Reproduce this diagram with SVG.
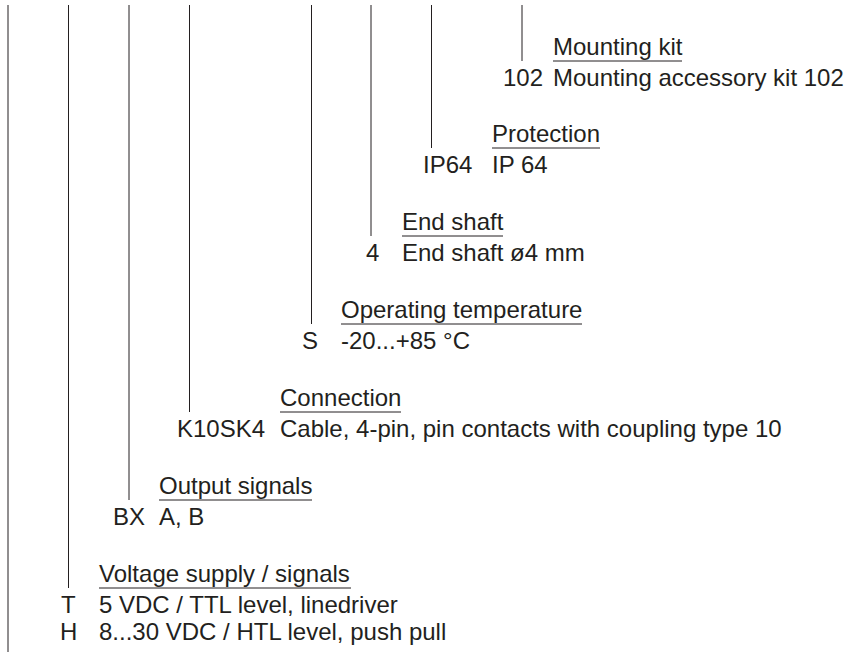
<svg xmlns="http://www.w3.org/2000/svg" width="847" height="657" viewBox="0 0 847 657">
<style>
text{font-family:"Liberation Sans",Arial,sans-serif;font-size:24px;fill:#231f20}
.c{stroke:#231f20;stroke-width:1;fill:none}
.u{stroke:#231f20;stroke-width:1;fill:none}
</style>
<rect width="847" height="657" fill="#fff"/>
<g id="connectors">
<line class="c" x1="8" y1="5" x2="8" y2="652"/>
<line class="c" x1="68.5" y1="5" x2="68.5" y2="588"/>
<line class="c" x1="129" y1="5" x2="129" y2="500"/>
<line class="c" x1="189.5" y1="5" x2="189.5" y2="412"/>
<line class="c" x1="311.5" y1="5" x2="311.5" y2="324"/>
<line class="c" x1="371" y1="5" x2="371" y2="236"/>
<line class="c" x1="431.5" y1="5" x2="431.5" y2="148"/>
<line class="c" x1="522" y1="5" x2="522" y2="61"/>
</g>
<g id="mounting">
<text x="553" y="55">Mounting kit</text>
<line class="u" x1="553" y1="61" x2="682" y2="61"/>
<text x="503" y="86">102</text>
<text x="553" y="86">Mounting accessory kit 102</text>
</g>
<g id="protection">
<text x="492" y="142">Protection</text>
<line class="u" x1="492" y1="148" x2="600" y2="148"/>
<text x="423" y="173">IP64</text>
<text x="492" y="173">IP 64</text>
</g>
<g id="endshaft">
<text x="402" y="230">End shaft</text>
<line class="u" x1="402" y1="236" x2="503" y2="236"/>
<text x="366" y="261">4</text>
<text x="402" y="261">End shaft ø4 mm</text>
</g>
<g id="temperature">
<text x="341" y="318">Operating temperature</text>
<line class="u" x1="341" y1="324" x2="582" y2="324"/>
<text x="302" y="349">S</text>
<text x="341" y="349">-20...+85 °C</text>
</g>
<g id="connection">
<text x="280" y="406">Connection</text>
<line class="u" x1="280" y1="412" x2="401" y2="412"/>
<text x="177" y="437">K10SK4</text>
<text x="280" y="437">Cable, 4-pin, pin contacts with coupling type 10</text>
</g>
<g id="output">
<text x="159" y="494">Output signals</text>
<line class="u" x1="159" y1="500" x2="312" y2="500"/>
<text x="113" y="525">BX</text>
<text x="159" y="525">A, B</text>
</g>
<g id="voltage">
<text x="99" y="582">Voltage supply / signals</text>
<line class="u" x1="99" y1="588" x2="351" y2="588"/>
<text x="61" y="613">T</text>
<text x="99" y="613">5 VDC / TTL level, linedriver</text>
<text x="60" y="640">H</text>
<text x="99" y="640">8...30 VDC / HTL level, push pull</text>
</g>
</svg>
